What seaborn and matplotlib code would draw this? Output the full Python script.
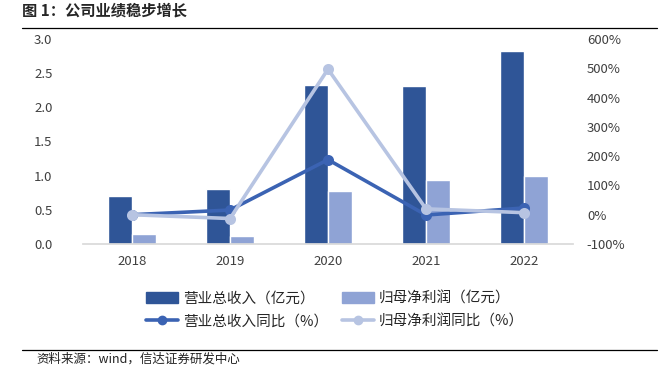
import matplotlib
matplotlib.use("Agg")
import matplotlib.pyplot as plt
import seaborn as sns
import pandas as pd
from matplotlib.ticker import FuncFormatter
from matplotlib.patches import Patch
from matplotlib.lines import Line2D

# dados
anos = ["2018", "2019", "2020", "2021", "2022"]
receita = [0.70, 0.81, 2.33, 2.31, 2.83]      # 营业总收入（亿元）
lucro = [0.15, 0.12, 0.78, 0.94, 1.00]        # 归母净利润（亿元）
receita_yoy = [0, 16, 188, -1, 23]            # %
lucro_yoy = [0, -13, 497, 20, 7]              # %

nome_rec = "营业总收入（亿元）"
nome_luc = "归母净利润（亿元）"
nome_rec_yoy = "营业总收入同比（%）"
nome_luc_yoy = "归母净利润同比（%）"

cor_rec = "#2F5597"
cor_luc = "#8FA3D5"
cor_rec_yoy = "#3B63B3"
cor_luc_yoy = "#B7C4E2"

sns.set_theme(style="white")
plt.rcParams["font.family"] = ["Noto Sans CJK SC", "DejaVu Sans"]

df_bar = pd.DataFrame({
    "ano": anos * 2,
    "valor": receita + lucro,
    "serie": [nome_rec] * 5 + [nome_luc] * 5,
})
df_lin = pd.DataFrame({
    "ano": anos * 2,
    "valor": receita_yoy + lucro_yoy,
    "serie": [nome_rec_yoy] * 5 + [nome_luc_yoy] * 5,
})

fig = plt.figure(figsize=(6.63, 3.86), dpi=100)
ax = fig.add_axes([83 / 663, 1 - 244 / 386, 490 / 663, 205 / 386])

sns.barplot(data=df_bar, x="ano", y="valor", hue="serie",
            palette=[cor_rec, cor_luc], width=0.48, saturation=1,
            ax=ax, legend=False)
ax.set_ylim(0, 3.0)
ax.set_xlim(-0.5, 4.5)
ax.set_yticks([0, 0.5, 1.0, 1.5, 2.0, 2.5, 3.0])
ax.yaxis.set_major_formatter(FuncFormatter(lambda v, p: f"{v:.1f}"))
ax.set_xlabel("")
ax.set_ylabel("")
for s in ["top", "right", "left"]:
    ax.spines[s].set_visible(False)
ax.spines["bottom"].set_color("#D9D9D9")
ax.tick_params(axis="y", length=0, labelsize=9.5, pad=22, colors="#404040")
ax.tick_params(axis="x", length=0, labelsize=9.5, pad=8, colors="#404040")

ax2 = ax.twinx()
sns.pointplot(data=df_lin, x="ano", y="valor", hue="serie",
              palette=[cor_rec_yoy, cor_luc_yoy], markers="o",
              markersize=6, linewidth=2.6, ax=ax2, legend=False)
ax2.set_ylim(-100, 600)
ax2.set_yticks(range(-100, 601, 100))
ax2.yaxis.set_major_formatter(FuncFormatter(lambda v, p: f"{int(v)}%"))
ax2.set_xlabel("")
ax2.set_ylabel("")
for s in ["top", "right", "left", "bottom"]:
    ax2.spines[s].set_visible(False)
ax2.tick_params(axis="y", length=0, labelsize=9.5, pad=10, colors="#404040")
ax2.set_xlim(-0.5, 4.5)

# legenda
h = [Patch(color=cor_rec), Line2D([], [], color=cor_rec_yoy, lw=2.6, marker="o", ms=6),
     Patch(color=cor_luc), Line2D([], [], color=cor_luc_yoy, lw=2.6, marker="o", ms=6)]
lab = [nome_rec, nome_rec_yoy, nome_luc, nome_luc_yoy]
fig.legend(h, lab, ncol=2, loc="center", bbox_to_anchor=(335 / 663, 1 - 310 / 386),
           frameon=False, fontsize=10.5, handlelength=2.2, handleheight=0.7,
           columnspacing=0.9, labelspacing=0.6, handletextpad=0.35)

# título e fonte
fig.text(22 / 663, 1 - 11 / 386, "图 1：公司业绩稳步增长", fontsize=11,
         fontweight="bold", va="center", ha="left")
fig.add_artist(Line2D([22 / 663, 657 / 663], [1 - 28 / 386, 1 - 28 / 386],
                      color="black", lw=0.9))
fig.add_artist(Line2D([22 / 663, 657 / 663], [1 - 350 / 386, 1 - 350 / 386],
                      color="black", lw=0.9))
fig.text(36 / 663, 1 - 359 / 386, "资料来源：wind，信达证券研发中心", fontsize=9,
         style="italic", va="center", ha="left", color="#222222")

fig.savefig("out.png", dpi=100)
